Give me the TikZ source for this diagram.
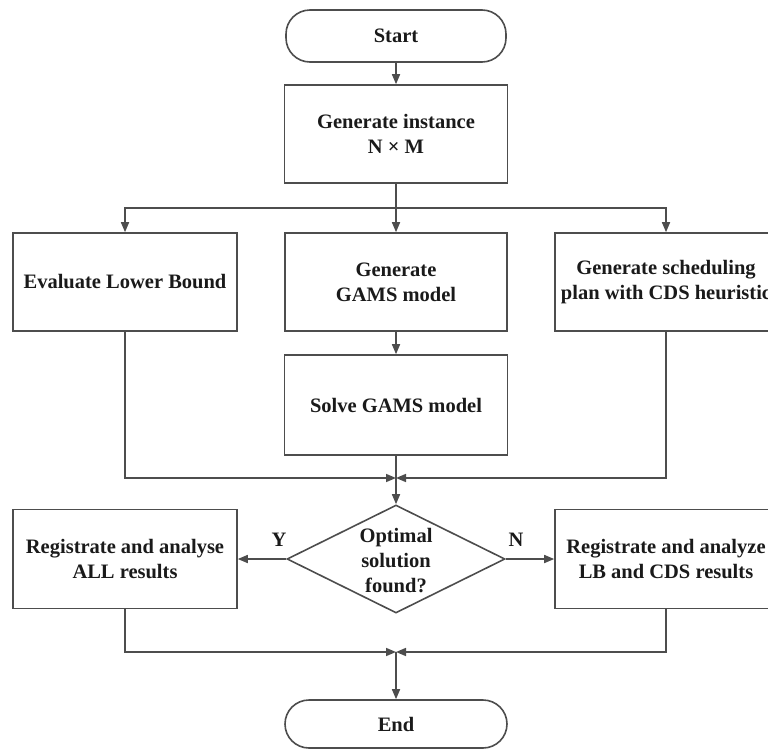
\documentclass[tikz,border=0pt]{standalone}
\usepackage{fontspec}
\setmainfont{Liberation Serif}
\usetikzlibrary{arrows.meta,shapes.geometric}
\definecolor{ln}{HTML}{4D4D4D}
\definecolor{tx}{HTML}{1A1A1A}
\begin{document}
\begin{tikzpicture}[x=1pt,y=-1pt,
  every node/.style={font=\fontsize{20.5}{25}\selectfont\bfseries, text=tx, align=center},
  box/.style={draw=ln, line width=1.6pt, rectangle, inner sep=0pt},
  term/.style={draw=ln, line width=1.6pt, rectangle, rounded corners=24pt, inner sep=0pt},
  dia/.style={draw=ln, line width=1.6pt, diamond, inner sep=0pt, minimum width=218pt, minimum height=108pt},
  conn/.style={draw=ln, line width=1.6pt},
  arr/.style={conn, -{Triangle[length=10pt,width=8pt]}}]
\clip (0,0) rectangle (768,750);
\fill[white] (0,0) rectangle (768,750);

\node[term, minimum width=220pt, minimum height=52pt] (start) at (396,36) {Start};
\node[box, minimum width=223pt, minimum height=98pt] (inst) at (396,134) {Generate instance\\N × M};
\node[box, minimum width=224pt, minimum height=98pt] (lb) at (125,282) {Evaluate Lower Bound};
\node[box, minimum width=222pt, minimum height=98pt] (gen) at (396,282) {Generate\\GAMS model};
\node[box, minimum width=222pt, minimum height=98pt] (cds) at (666,282) {Generate scheduling\\plan with CDS heuristic};
\node[box, minimum width=223pt, minimum height=100pt] (solve) at (396,405) {Solve GAMS model};
\node[dia] (dec) at (396,559) {};
\node (dectxt) at (396,561) {Optimal\\solution\\found?};
\node[box, minimum width=224pt, minimum height=99pt] (lres) at (125,559) {Registrate and analyse\\ALL results};
\node[box, minimum width=222pt, minimum height=99pt] (rres) at (666,559) {Registrate and analyze\\LB and CDS results};
\node[term, minimum width=222pt, minimum height=48pt] (end) at (396,724) {End};

\coordinate (br) at (396,208);
\coordinate (m1) at (396,478);
\coordinate (m2) at (396,652);

\draw[arr] (start) -- (inst);
\draw[conn] (inst) -- (br);
\draw[arr] (br) -| (lb);
\draw[arr] (br) -| (cds);
\draw[arr] (br) -- (gen);
\draw[arr] (gen) -- (solve);
\draw[arr] (lb) |- (m1);
\draw[arr] (cds) |- (m1);
\draw[arr] (solve) -- (dec);
\draw[arr] (dec) -- (lres);
\draw[arr] (dec) -- (rres);
\node (y) at (279,540) {Y};
\node (n) at (516,540) {N};
\draw[arr] (lres) |- (m2);
\draw[arr] (rres) |- (m2);
\draw[arr] (m2) -- (end);
\end{tikzpicture}
\end{document}
